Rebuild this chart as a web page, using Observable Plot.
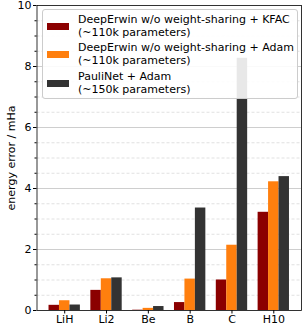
<!DOCTYPE html>
<html>
<head>
<meta charset="utf-8">
<script src="https://cdn.jsdelivr.net/npm/d3@7"></script>
<script src="https://cdn.jsdelivr.net/npm/@observablehq/plot@0.6"></script>
<style>
  html, body { margin: 0; padding: 0; background: #fff; }
  #wrap { position: relative; width: 303px; height: 327px; font-family: "DejaVu Sans", sans-serif; }
  #legend {
    position: absolute; left: 42px; top: 9px; width: 256px; height: 90px;
    background: rgba(255,255,255,0.89); border: 1px solid #cccccc; border-radius: 3px;
    box-sizing: border-box; font-size: 11px; color: #000; line-height: 13px;
  }
  .item { position: absolute; left: 4px; }
  .sw { position: absolute; left: 0; width: 22px; height: 7px; }
  .lbl { position: absolute; left: 31px; white-space: nowrap; }
</style>
</head>
<body>
<div id="wrap"></div>
<script>
const categories = ["LiH", "Li2", "Be", "B", "C", "H10"];
const seriesNames = [
  "DeepErwin w/o weight-sharing + KFAC",
  "DeepErwin w/o weight-sharing + Adam",
  "PauliNet + Adam"
];
const seriesNotes = ["(~110k parameters)", "(~110k parameters)", "(~150k parameters)"];
const seriesColors = ["#8b0000", "#ff7f0e", "#333333"];
const kfac  = [0.17, 0.66, 0.01, 0.26, 1.00, 3.22];
const adam  = [0.32, 1.04, 0.07, 1.03, 2.14, 4.22];
const pauli = [0.18, 1.07, 0.13, 3.36, 8.27, 4.39];
const majorTicks = [0, 2, 4, 6, 8, 10];

const values = [kfac, adam, pauli];
const barWidth = 0.25;
const rows = [];
values.forEach((arr, k) => arr.forEach((v, i) => {
  const c = i + (k - 1) * barWidth;
  rows.push({x1: c - barWidth / 2, x2: c + barWidth / 2, value: v, series: seriesNames[k]});
}));
const minorTicks = d3.range(0, 10.01, 0.5).filter(t => !majorTicks.includes(t));

const chart = Plot.plot({
  width: 303,
  height: 327,
  marginLeft: 36.5,
  marginRight: 2,
  marginTop: 5,
  marginBottom: 17,
  style: {fontFamily: "DejaVu Sans, sans-serif", fontSize: "11px", color: "#000", background: "#fff"},
  x: {domain: [-0.6625, 5.6625]},
  y: {domain: [0, 10]},
  color: {domain: seriesNames, range: seriesColors},
  marks: [
    Plot.ruleY(minorTicks, {stroke: "#d9d9d9", strokeWidth: 0.8, strokeDasharray: "3,2"}),
    Plot.ruleY(majorTicks.filter(t => t > 0 && t < 10), {stroke: "#c8c8c8", strokeWidth: 0.9}),
    Plot.rectY(rows, {x1: "x1", x2: "x2", y1: 0, y2: "value", fill: "series", inset: 0}),
    Plot.axisY(minorTicks, {tickSize: 2, text: null, label: null, stroke: "#000"}),
    Plot.axisY(majorTicks, {tickSize: 3.5, tickPadding: 2, fontSize: 11, label: "energy error / mHa", labelAnchor: "center", labelOffset: 30, labelArrow: false}),
    Plot.axisX(d3.range(categories.length), {tickSize: 3.5, tickPadding: 1.5, tickFormat: i => categories[i], fontSize: 11, label: null}),
    Plot.frame({stroke: "#000", strokeWidth: 0.8})
  ]
});

const wrap = document.getElementById("wrap");
wrap.appendChild(chart);
const legend = document.createElement("div");
legend.id = "legend";
const tops = [2.5, 31, 59.5];
seriesNames.forEach((name, k) => {
  const item = document.createElement("div");
  item.className = "item";
  item.style.top = tops[k] + "px";
  item.innerHTML = `<div class="sw" style="top:10px;background:${seriesColors[k]}"></div>` +
    `<div class="lbl" style="top:0">${name}<br>${seriesNotes[k]}</div>`;
  legend.appendChild(item);
});
wrap.appendChild(legend);
</script>
</body>
</html>
